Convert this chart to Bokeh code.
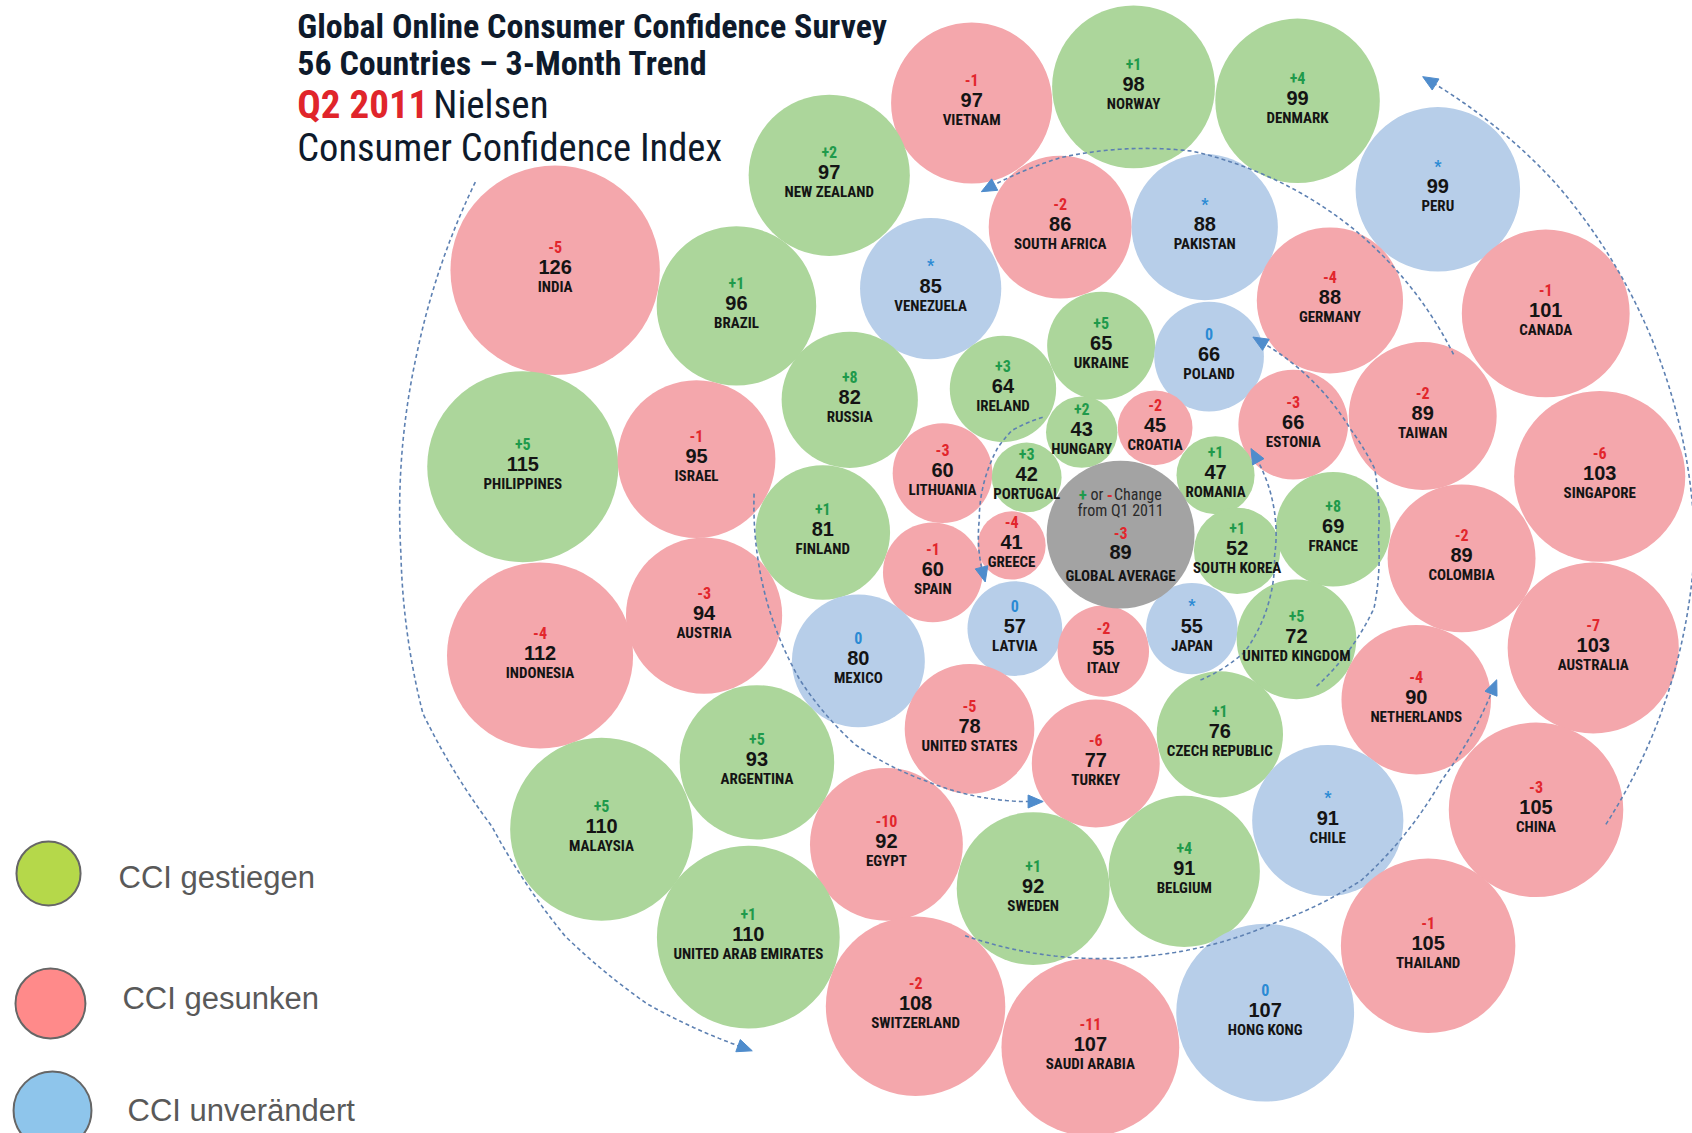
import numpy as np
from bokeh.plotting import figure
from bokeh.models import Range1d, ColumnDataSource
from bokeh.embed import file_html
from bokeh.resources import INLINE
from bokeh.core.properties import value

# ---------------- data ----------------
countries = ["VIETNAM", "NORWAY", "DENMARK", "NEW ZEALAND", "PERU", "INDIA", "SOUTH AFRICA",
             "PAKISTAN", "BRAZIL", "VENEZUELA", "GERMANY", "CANADA", "UKRAINE", "POLAND",
             "IRELAND", "RUSSIA", "PHILIPPINES", "ISRAEL", "HUNGARY", "CROATIA", "ESTONIA",
             "TAIWAN", "SINGAPORE", "LITHUANIA", "PORTUGAL", "ROMANIA", "FINLAND", "GREECE",
             "SPAIN", "SOUTH KOREA", "FRANCE", "COLOMBIA", "AUSTRIA", "INDONESIA", "LATVIA",
             "MEXICO", "ITALY", "JAPAN", "UNITED KINGDOM", "AUSTRALIA", "NETHERLANDS",
             "UNITED STATES", "TURKEY", "CZECH REPUBLIC", "ARGENTINA", "MALAYSIA", "EGYPT",
             "CHILE", "CHINA", "SWEDEN", "BELGIUM", "UNITED ARAB EMIRATES", "THAILAND",
             "SWITZERLAND", "SAUDI ARABIA", "HONG KONG"]
cci = [97, 98, 99, 97, 99, 126, 86, 88, 96, 85, 88, 101, 65, 66, 64, 82, 115, 95, 43, 45,
       66, 89, 103, 60, 42, 47, 81, 41, 60, 52, 69, 89, 94, 112, 57, 80, 55, 55, 72, 103,
       90, 78, 77, 76, 93, 110, 92, 91, 105, 92, 91, 110, 105, 108, 107, 107]
change = ["-1", "+1", "+4", "+2", "*", "-5", "-2", "*", "+1", "*",
          "-4", "-1", "+5", "0", "+3", "+8", "+5", "-1", "+2", "-2",
          "-3", "-2", "-6", "-3", "+3", "+1", "+1", "-4", "-1", "+1",
          "+8", "-2", "-3", "-4", "0", "0", "-2", "*", "+5", "-7",
          "-4", "-5", "-6", "+1", "+5", "+5", "-10", "*", "-3", "+1",
          "+4", "+1", "-1", "-2", "-11", "0"]

global_name = "GLOBAL AVERAGE"
global_cci = 89
global_change = "-3"

legend_labels = ["CCI gestiegen", "CCI gesunken", "CCI unverändert"]

title_lines = ["Global Online Consumer Confidence Survey", "56 Countries \u2013 3-Month Trend"]
title_q = "Q2 2011"
title_nielsen = "Nielsen"
title_last = "Consumer Confidence Index"

# ---------------- layout (reference picture units) ----------------
x_pos = [900, 1050, 1202, 768, 1332, 514, 982, 1116, 682, 862, 1232, 1432, 1020, 1120, 929,
         787, 484, 645, 1002, 1070, 1198, 1318, 1482, 873, 951, 1126, 762, 937, 864, 1146,
         1235, 1354, 652, 500, 940, 795, 1022, 1104, 1201, 1476, 1312, 898, 1015, 1130, 701,
         557, 821, 1230, 1423, 957, 1097, 693, 1323, 848, 1010, 1172]
y_pos = [95, 80, 93, 162, 175, 250, 210, 210, 283, 267, 278, 290, 320, 330, 360, 370, 432,
         425, 400, 396, 393, 385, 441, 438, 442, 440, 493, 505, 530, 510, 490, 517, 570,
         607, 582, 612, 603, 582, 592, 600, 648, 675, 707, 680, 706, 768, 782, 760, 750,
         823, 807, 868, 876, 932, 970, 938]
global_x, global_y = 1038, 495

S = 1692 / 1568
R_UNIT = 0.77

FILL = {"up": "#acd69b", "down": "#f4a7ac", "same": "#b7cee9"}
CHG_COL = {"up": "#1f9a4b", "down": "#e2262c", "same": "#2a8ad4"}
NUM_FONT = value("Liberation Sans")
NARROW = value("Roboto Condensed")
DARK = "#141414"


def status(c):
    if c.startswith("+"):
        return "up"
    if c.startswith("-"):
        return "down"
    return "same"


p = figure(width=1692, height=1133, x_range=Range1d(0, 1692 / S),
           y_range=Range1d(1133 / S, 0), output_backend="svg",
           toolbar_location=None, min_border=0)
p.axis.visible = False
p.grid.visible = False
p.outline_line_color = None
p.background_fill_color = "white"

st = [status(c) for c in change]
src = ColumnDataSource(dict(
    x=x_pos, y=y_pos, r=[v * R_UNIT for v in cci],
    fill=[FILL[s] for s in st], chg=change, chgcol=[CHG_COL[s] for s in st],
    val=[str(v) for v in cci], name=countries))

p.circle(x="x", y="y", radius="r", fill_color="fill", line_color=None, source=src)
p.circle(x=[global_x], y=[global_y], radius=[global_cci * R_UNIT],
         fill_color="#a3a3a3", line_color=None)

# ---------------- dashed spiral guides ----------------
CX, CY = 1040, 505
paths = [
    ([30, 0, -40, -56.5], [517, 530, 523, 516]),
    ([209.3, 195.4, 179.4, 166.5, 156, 145, 136, 127], [688, 678, 669, 667, 640, 631, 612, 583]),
    ([-30, -54, -80, -99, -110.5], [354, 363, 371, 364, 354]),
    ([112, 86, 68.5, 54.5, 36.5, 21], [390, 381, 377, 381, 367, 368]),
    ([188, 183.4, 169.8, 157.3, 143.3, 130.2, 109], [345, 342, 333, 324, 309, 285, 251]),
    ([238, 226, 218, 190, 168.6], [140, 148, 147, 135, 132]),
    ([60, 41, 4, -34], [144, 150, 141, 148]),
    ([36, 14, -2, -17, -27, -56], [222, 240, 237, 244, 237, 228]),
]
ax, ay = [], []
for angs, rads in paths:
    idx = np.arange(len(angs))
    s = np.linspace(0, len(angs) - 1, 300)
    a = np.radians(np.interp(s, idx, angs))
    r = np.interp(s, idx, rads)
    xs = CX + r * np.cos(a)
    ys = CY + r * np.sin(a)
    p.line(xs, ys, line_color="#5d80b2", line_width=1.6, line_dash="4 3")
    d = np.array([xs[-1] - xs[-6], ys[-1] - ys[-6]])
    d = d / np.hypot(*d)
    n = np.array([-d[1], d[0]])
    e = np.array([xs[-1], ys[-1]])
    tip = e + d * 8
    base = e - d * 6
    b1 = base + n * 6
    b2 = base - n * 6
    ax.append([tip[0], b1[0], b2[0]])
    ay.append([tip[1], b1[1], b2[1]])
p.patches(ax, ay, fill_color="#4f8ccc", line_color="#4f8ccc", line_width=1)

# ---------------- bubble texts ----------------
p.text(x="x", y="y", text="chg", text_color="chgcol", text_font=NARROW, text_font_style="bold",
       text_font_size="16px", text_align="center", text_baseline="middle", y_offset=-23,
       source=src)
p.text(x="x", y="y", text="val", text_color=DARK, text_font=NUM_FONT, text_font_style="bold",
       text_font_size="20px", text_align="center", text_baseline="middle", y_offset=-3,
       source=src)
p.text(x="x", y="y", text="name", text_color=DARK, text_font=NARROW, text_font_style="bold",
       text_font_size="15px", text_align="center", text_baseline="middle", y_offset=17,
       source=src)

# global average bubble texts
GT = "#2a2a2a"
p.text(x=[global_x - 35], y=[global_y], text=["+"], text_color=CHG_COL["up"], text_font=NARROW,
       text_font_style="bold", text_font_size="17px", text_align="center",
       text_baseline="middle", y_offset=-40)
p.text(x=[global_x - 22], y=[global_y], text=["or"], text_color=GT, text_font=NARROW,
       text_font_size="16px", text_align="center", text_baseline="middle", y_offset=-40)
p.text(x=[global_x - 10], y=[global_y], text=["-"], text_color=CHG_COL["down"], text_font=NARROW,
       text_font_style="bold", text_font_size="17px", text_align="center",
       text_baseline="middle", y_offset=-40)
p.text(x=[global_x + 16], y=[global_y], text=["Change"], text_color=GT, text_font=NARROW,
       text_font_size="16px", text_align="center", text_baseline="middle", y_offset=-40)
p.text(x=[global_x], y=[global_y], text=["from Q1 2011"], text_color=GT, text_font=NARROW,
       text_font_size="16px", text_align="center", text_baseline="middle", y_offset=-24)
p.text(x=[global_x], y=[global_y], text=[global_change], text_color=CHG_COL["down"],
       text_font=NARROW, text_font_style="bold", text_font_size="16px", text_align="center",
       text_baseline="middle", y_offset=-2)
p.text(x=[global_x], y=[global_y], text=[str(global_cci)], text_color=DARK, text_font=NUM_FONT,
       text_font_style="bold", text_font_size="20px", text_align="center",
       text_baseline="middle", y_offset=17)
p.text(x=[global_x], y=[global_y], text=[global_name], text_color=DARK, text_font=NARROW,
       text_font_style="bold", text_font_size="15px", text_align="center",
       text_baseline="middle", y_offset=41)

# ---------------- title ----------------
TITLE_COL = "#0e1a2b"
p.text(x=[275, 275], y=[24, 57.5], text=title_lines, text_color=TITLE_COL, text_font=NARROW,
       text_font_style="bold", text_font_size="34px", text_align="left",
       text_baseline="alphabetic")
p.text(x=[275], y=[96.5], text=[title_q], text_color="#e0252b", text_font=NARROW,
       text_font_style="bold", text_font_size="39px", text_align="left",
       text_baseline="alphabetic")
p.text(x=[401], y=[96.5], text=[title_nielsen], text_color=TITLE_COL, text_font=NARROW,
       text_font_size="39px", text_align="left", text_baseline="alphabetic")
p.text(x=[275], y=[136], text=[title_last], text_color=TITLE_COL, text_font=NARROW,
       text_font_size="38.5px", text_align="left", text_baseline="alphabetic")

# ---------------- legend ----------------
leg_cx = [44.5, 46.3, 48.2]
leg_cy = [809, 929.5, 1028.6]
leg_r = [29.7, 32.4, 36.1]
leg_fill = ["#b5d84a", "#ff8a8a", "#8ec5eb"]
leg_tx = [109.4, 113, 117.7]
leg_ty = [812.7, 925, 1029]
p.circle(x=leg_cx, y=leg_cy, radius=leg_r, fill_color=leg_fill, line_color="#666666",
         line_width=2)
p.text(x=leg_tx, y=leg_ty, text=legend_labels, text_color="#595959",
       text_font=value("Liberation Sans"), text_font_size="31px", text_align="left",
       text_baseline="middle")

open("out.html", "w").write(file_html(p, INLINE))
